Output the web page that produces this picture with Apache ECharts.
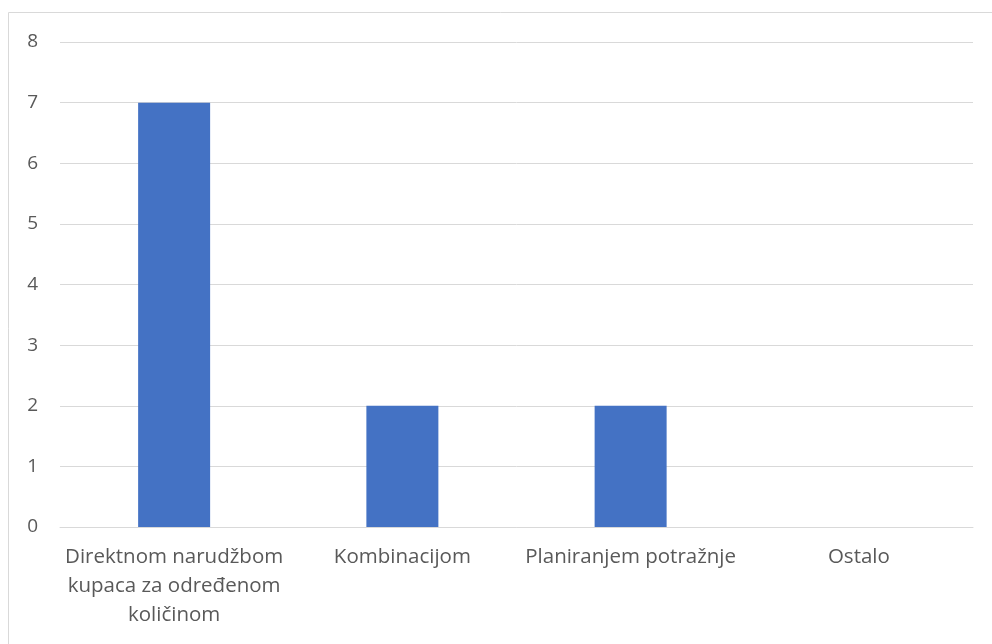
<!DOCTYPE html>
<html>
<head>
<meta charset="utf-8">
<script src="https://cdn.jsdelivr.net/npm/echarts@6/dist/echarts.min.js"></script>
<style>
html,body{margin:0;padding:0;background:#fff;}
#chart{width:992px;height:644px;}
</style>
</head>
<body>
<div id="chart"></div>
<script>
const categories = ['Direktnom narudžbom\nkupaca za određenom\nkoličinom', 'Kombinacijom', 'Planiranjem potražnje', 'Ostalo'];
const values = [7, 2, 2, 0];
const yTicks = [0, 1, 2, 3, 4, 5, 6, 7, 8];

const chart = echarts.init(document.getElementById('chart'), null, {renderer: 'canvas'});
chart.setOption({
  animation: false,
  textStyle: {fontFamily: 'Open Sans'},
  graphic: [{
    type: 'rect',
    shape: {x: 8.5, y: 12.5, width: 1000, height: 700},
    style: {fill: 'none', stroke: '#d9d9d9', lineWidth: 1},
    silent: true
  }],
  grid: {left: 60, right: 19, top: 42, bottom: 117, containLabel: false},
  xAxis: {
    type: 'category',
    data: categories,
    axisLine: {show: true, lineStyle: {color: '#d9d9d9', width: 1}},
    axisTick: {show: false},
    axisLabel: {color: '#595959', fontSize: 20.5, lineHeight: 29, margin: 16, interval: 0, fontFamily: 'Open Sans'}
  },
  yAxis: {
    type: 'value',
    min: 0, max: yTicks[yTicks.length - 1], interval: 1,
    axisLine: {show: false},
    axisTick: {show: false},
    splitLine: {lineStyle: {color: '#d9d9d9', width: 1}},
    axisLabel: {color: '#595959', fontSize: 19, margin: 22, fontFamily: 'Open Sans'}
  },
  series: [{
    type: 'bar',
    data: values,
    barWidth: 72,
    itemStyle: {color: '#4472C4'}
  }]
});
</script>
</body>
</html>
